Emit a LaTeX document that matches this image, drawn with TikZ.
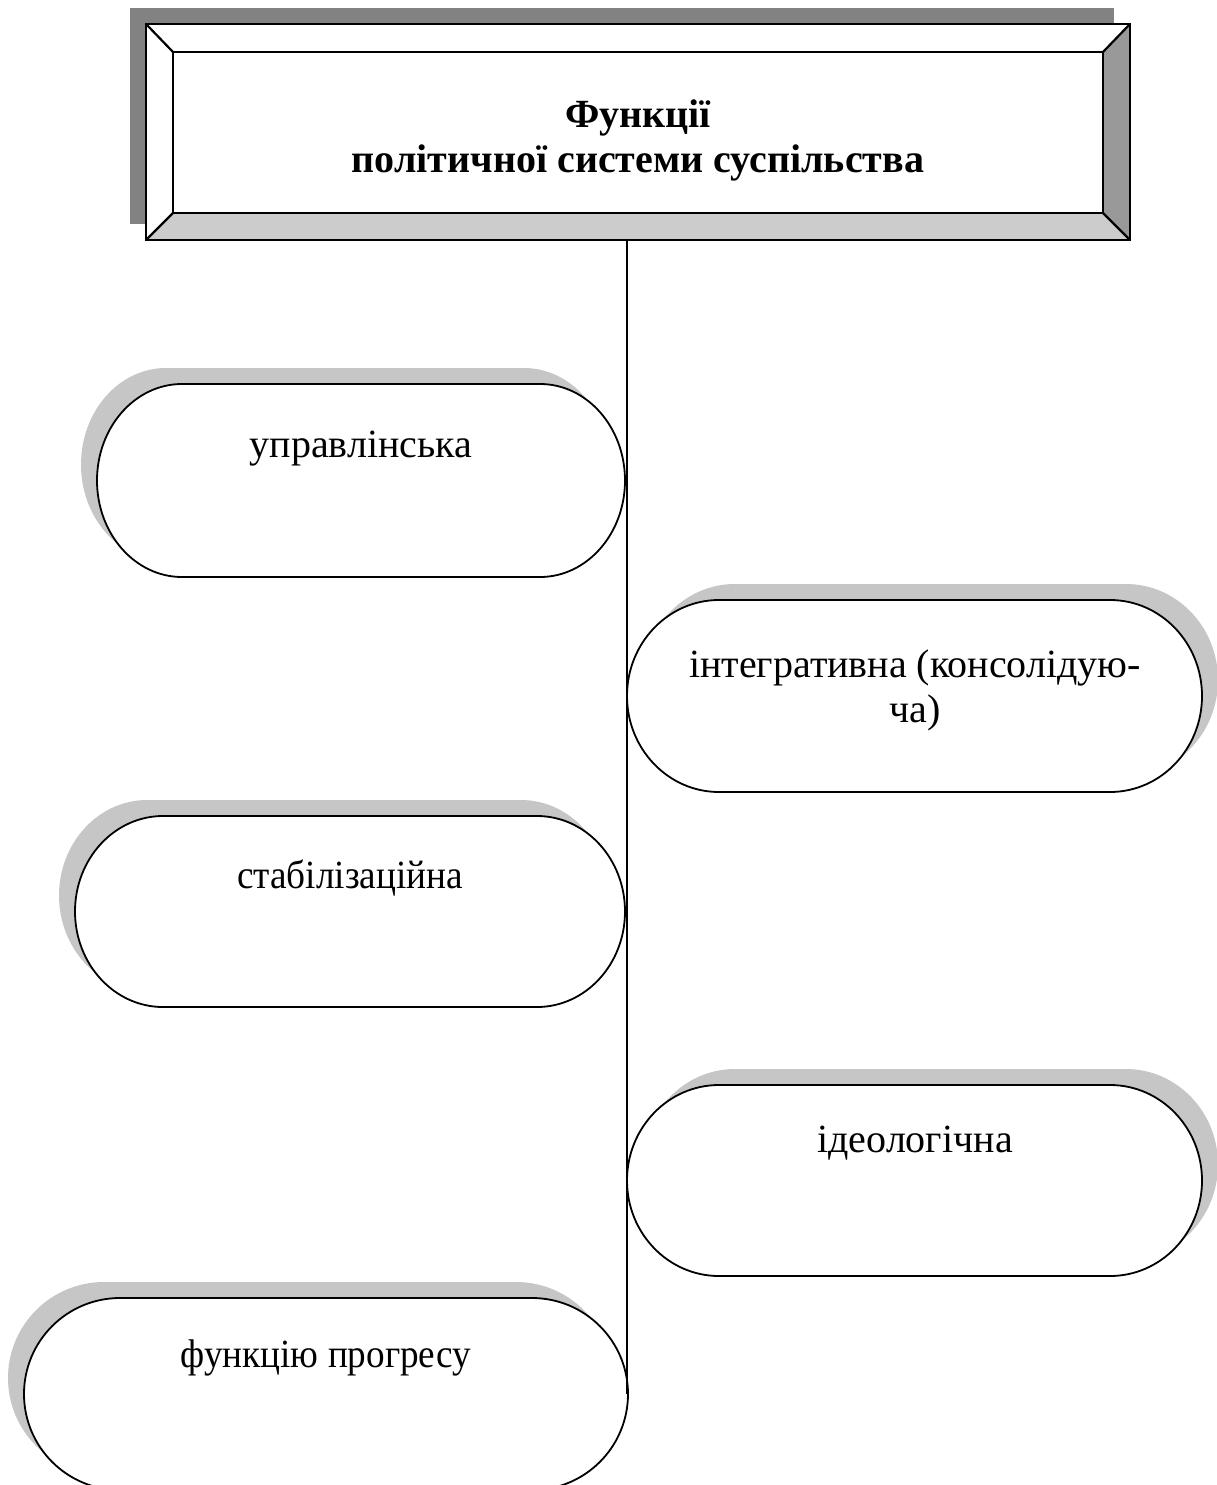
\documentclass[tikz,border=0pt]{standalone}
\usepackage{fontspec}
\setmainfont{Liberation Serif}
\definecolor{boxshadow}{HTML}{828282}
\definecolor{pillshadow}{HTML}{C6C6C6}
\definecolor{bevelright}{HTML}{999999}
\definecolor{bevelbottom}{HTML}{CCCCCC}
\tikzset{
 pillline/.style={draw=black, line width=1.8pt, fill=white},
 pillshade/.style={fill=pillshadow},
 bevelline/.style={draw=black, line width=2.2pt, line join=miter},
 pilltext/.style={font=\fontsize{40}{45}\selectfont, inner sep=0pt, anchor=base, align=center},
 narrowtext/.style={pilltext, xscale=0.93, transform shape},
 titletext/.style={font=\bfseries\fontsize{40}{45}\selectfont, inner sep=0pt, anchor=base, align=center},
 trunkline/.style={draw=black, line width=1.6pt}
}
\newcommand\pillpath[5]{(#1+#5,-#2) -- (#3-#5,-#2) arc[start angle=90,end angle=-90,x radius=#5,y radius={(#4-#2)/2}] -- (#1+#5,-#4) arc[start angle=270,end angle=90,x radius=#5,y radius={(#4-#2)/2}] -- cycle}
\begin{document}
\begin{tikzpicture}[x=1pt,y=1pt]
\useasboundingbox (0,0) rectangle (1217,-1485);
% title box
\fill[boxshadow] (130,-8) rectangle (1114,-224);
\node[minimum width=984pt, minimum height=216pt, inner sep=0pt, outer sep=0pt] (title) at (638,-132) {};
\coordinate (inw) at (173,-52);
\coordinate (ine) at (1103,-52);
\coordinate (isw) at (173,-213);
\coordinate (ise) at (1103,-213);
\fill[white] (title.north west) rectangle (title.south east);
\fill[bevelright] (title.north east) -- (ine) -- (ise) -- (title.south east) -- cycle;
\fill[bevelbottom] (title.south west) -- (isw) -- (ise) -- (title.south east) -- cycle;
\draw[bevelline] (title.north west) rectangle (title.south east);
\draw[bevelline] (inw) rectangle (ise);
\draw[bevelline] (title.north west) -- (inw) (title.north east) -- (ine) (title.south west) -- (isw) (title.south east) -- (ise);
\node[titletext] (ttl) at (638,-172) {Функції\\політичної системи суспільства};
% pills
\fill[pillshade, shift={(-16,16)}] \pillpath{97}{384}{625}{577}{85};
\draw[pillline] \pillpath{97}{384}{625}{577}{85};
\node[pilltext] (t1) at (361,-457) {управлінська};
\fill[pillshade, shift={(16,16)}] \pillpath{627}{600}{1202}{792}{92};
\draw[pillline] \pillpath{627}{600}{1202}{792}{92};
\node[pilltext] (t2) at (915,-722) {інтегративна (консолідую-\\ча)};
\fill[pillshade, shift={(-16,16)}] \pillpath{75}{816}{625}{1007}{88};
\draw[pillline] \pillpath{75}{816}{625}{1007}{88};
\node[narrowtext] (t3) at (350,-888) {стабілізаційна};
\fill[pillshade, shift={(16,16)}] \pillpath{627}{1085}{1202}{1276}{92};
\draw[pillline] \pillpath{627}{1085}{1202}{1276}{92};
\node[pilltext] (t4) at (915,-1152) {ідеологічна};
\fill[pillshade, shift={(-16,16)}] \pillpath{24}{1298}{628}{1490}{96};
\draw[pillline] \pillpath{24}{1298}{628}{1490}{96};
\node[narrowtext] (t5) at (326,-1367) {функцію прогресу};
% trunk
\coordinate (p5e) at (627,-1394);
\draw[trunkline] (title.south -| p5e) -- (p5e);
\end{tikzpicture}
\end{document}
